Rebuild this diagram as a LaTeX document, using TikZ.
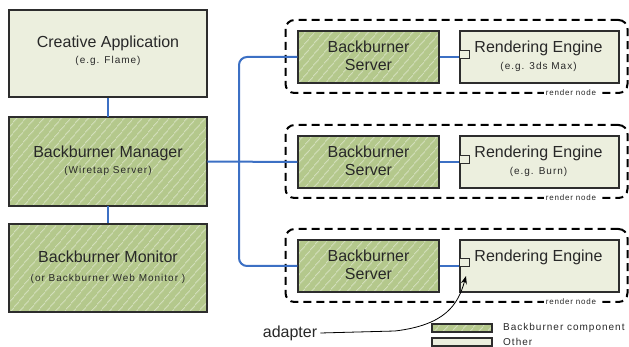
\documentclass[tikz,border=0pt]{standalone}
\usepackage{fontspec}
\setmainfont{Liberation Sans}
\newfontfamily\spacedfont[LetterSpace=10]{Liberation Sans}
\usetikzlibrary{patterns.meta,arrows.meta}
\definecolor{bbgreen}{RGB}{180,200,140}
\definecolor{otherfill}{RGB}{236,239,222}
\definecolor{conn}{RGB}{60,112,196}
\definecolor{edgecol}{RGB}{45,45,45}
\definecolor{txt}{RGB}{40,40,40}
\tikzset{
  bbbox/.style={draw=edgecol, line width=1.3pt, preaction={fill=bbgreen},
    pattern={Lines[angle=50,distance=6.5pt,line width=0.7pt]}, pattern color=white!65!bbgreen,
    inner sep=0pt},
  othbox/.style={draw=edgecol, line width=1.3pt, fill=otherfill, inner sep=0pt},
  rnodebox/.style={draw=black, line width=2pt, dash pattern=on 8pt off 5pt, rounded corners=9pt, inner sep=0pt},
  wire/.style={draw=conn, line width=2pt},
  bigtxt/.style={font=\fontsize{16}{18}\selectfont, text=txt, inner sep=0pt},
  subtxt/.style={font=\spacedfont\fontsize{10}{11}\selectfont, text=txt, inner sep=0pt},
  rntxt/.style={font=\spacedfont\fontsize{8}{9}\selectfont, text=txt, fill=white, inner sep=1.5pt},
  adsq/.style={draw=edgecol, line width=1pt, fill=otherfill, minimum width=10pt, minimum height=8pt, inner sep=0pt, anchor=west},
}
\begin{document}
\begin{tikzpicture}[x=1pt,y=-1pt]
\useasboundingbox (0,0) rectangle (629,347);

% left column
\node[othbox, minimum width=198pt, minimum height=87pt] (crea) at (108,53.5) {};
\node[bigtxt] (creat1) at (108,43) {Creative Application};
\node[subtxt] (creat2) at (108,61) {(e.g. Flame)};

\node[bbbox, minimum width=198pt, minimum height=89pt] (mgr) at (108,161.5) {};
\node[bigtxt] (mgrt1) at (108,153) {Backburner Manager};
\node[subtxt] (mgrt2) at (108,171) {(Wiretap Server)};

\node[bbbox, minimum width=198pt, minimum height=88pt] (mon) at (108,268) {};
\node[bigtxt] (mont1) at (108,257) {Backburner Monitor};
\node[subtxt] (mont2) at (108,279) {(or Backburner Web Monitor )};

% render node frames
\node[rnodebox, minimum width=342pt, minimum height=73pt] (rn1) at (456.5,56.5) {};
\node[rnodebox, minimum width=342pt, minimum height=73pt] (rn2) at (456.5,161.5) {};
\node[rnodebox, minimum width=342pt, minimum height=73pt] (rn3) at (456.5,265.5) {};
\node[rntxt] (rl1) at (571,93) {render node};
\node[rntxt] (rl2) at (571,198) {render node};
\node[rntxt] (rl3) at (571,302) {render node};

% servers
\node[bbbox, minimum width=141pt, minimum height=52pt] (srv1) at (368.5,57) {};
\node[bbbox, minimum width=141pt, minimum height=52pt] (srv2) at (368.5,162) {};
\node[bbbox, minimum width=141pt, minimum height=52pt] (srv3) at (368.5,266) {};
\node[bigtxt] (s1a) at (368.5,47) {Backburner};
\node[bigtxt] (s1b) at (368.5,65) {Server};
\node[bigtxt] (s2a) at (368.5,152) {Backburner};
\node[bigtxt] (s2b) at (368.5,170) {Server};
\node[bigtxt] (s3a) at (368.5,256) {Backburner};
\node[bigtxt] (s3b) at (368.5,274) {Server};

% engines
\node[othbox, minimum width=159pt, minimum height=52pt] (eng1) at (539.5,57) {};
\node[othbox, minimum width=159pt, minimum height=52pt] (eng2) at (539.5,162) {};
\node[othbox, minimum width=159pt, minimum height=52pt] (eng3) at (539.5,266) {};
\node[bigtxt] (e1a) at (538.5,48) {Rendering Engine};
\node[subtxt] (e1b) at (538.5,67) {(e.g. 3ds Max)};
\node[bigtxt] (e2a) at (538.5,153) {Rendering Engine};
\node[subtxt] (e2b) at (538.5,172) {(e.g. Burn)};
\node[bigtxt] (e3a) at (538.5,257) {Rendering Engine};

% adapters
\node[adsq] (ad1) at (eng1.west) [yshift=2pt] {};
\node[adsq] (ad2) at (eng2.west) [yshift=2pt] {};
\node[adsq] (ad3) at (eng3.west) [yshift=3pt] {};

% connectors
\draw[wire] (crea) -- (mgr);
\draw[wire] (mgr) -- (mon);
\coordinate (junc) at (239,162);
\draw[wire] (mgr.east) -- (srv2.west);
\draw[wire, rounded corners=8pt] (srv1.west) -| (junc) |- (srv3.west);
\draw[wire] (srv1.east) -- (srv1.east -| ad1.west);
\draw[wire] (srv2.east) -- (srv2.east -| ad2.west);
\draw[wire] (srv3.east) -- (srv3.east -| ad3.west);

% adapter callout
\node[bigtxt] (adl) at (290,333) {adapter};
\coordinate (adtip) at (466,276);
\draw[black, line width=0.8pt, -{Stealth[length=8pt,width=6pt]}]
  ([xshift=3pt]adl.east) -- (395,331) .. controls (445,325) and (458,305) .. (adtip);

% legend
\node[bbbox, line width=1.1pt, minimum width=60pt, minimum height=8pt] (lg1) at (462,328) {};
\node[othbox, line width=1.1pt, minimum width=60pt, minimum height=8pt] (lg2) at (462,342) {};
\node[subtxt, anchor=west] (lt1) at (503,328) {Backburner component};
\node[subtxt, anchor=west] (lt2) at (503,342) {Other};
\end{tikzpicture}
\end{document}
